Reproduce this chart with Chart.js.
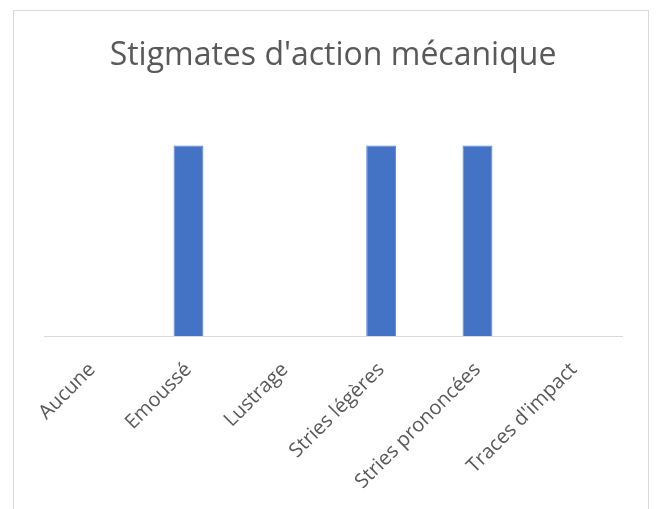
<!DOCTYPE html>
<html>
<head>
<meta charset="utf-8">
<script src="https://cdn.jsdelivr.net/npm/chart.js@4"></script>
<style>
  html, body { margin: 0; padding: 0; background: #fff; }
  #wrap { position: relative; width: 657px; height: 509px; overflow: hidden; }
  #frame { position: absolute; left: 13px; top: 10px; width: 636px; height: 530px; border: 1px solid #d9d9d9; box-sizing: border-box; }
  canvas { position: absolute; left: 0; top: 0; }
</style>
</head>
<body>
<div id="wrap">
  <div id="frame"></div>
  <canvas id="c" width="657" height="509"></canvas>
</div>
<script>
const chartTitle = "Stigmates d'action mécanique";
const categories = ["Aucune", "Emoussé", "Lustrage", "Stries légères", "Stries prononcées", "Traces d'impact"];
const values = [0, 1, 0, 1, 1, 0];

new Chart(document.getElementById('c'), {
  type: 'bar',
  data: {
    labels: categories,
    datasets: [{
      data: values,
      backgroundColor: '#4472C4',
      borderColor: '#5a83cf',
      borderWidth: 1,
      categoryPercentage: 1.0,
      barPercentage: 0.31
    }]
  },
  options: {
    responsive: false,
    animation: false,
    devicePixelRatio: 1,
    layout: { padding: { left: 44, right: 35, top: 0, bottom: 0 } },
    plugins: {
      legend: { display: false },
      tooltip: { enabled: false },
      title: {
        display: true,
        text: chartTitle,
        color: '#595959',
        font: { family: 'Open Sans', size: 32, weight: 'normal' },
        padding: { top: 37, bottom: 32 }
      }
    },
    scales: {
      y: {
        display: false,
        min: 0,
        max: 1.2
      },
      x: {
        grid: { display: true, drawOnChartArea: false, drawTicks: false },
        border: { display: true, color: '#d9d9d9', width: 1 },
        ticks: {
          color: '#595959',
          font: { family: 'Open Sans', size: 20 },
          minRotation: 45,
          maxRotation: 45,
          autoSkip: false,
          padding: 22
        },
        afterFit: (s) => { s.height = 173; }
      }
    }
  }
});
</script>
</body>
</html>
